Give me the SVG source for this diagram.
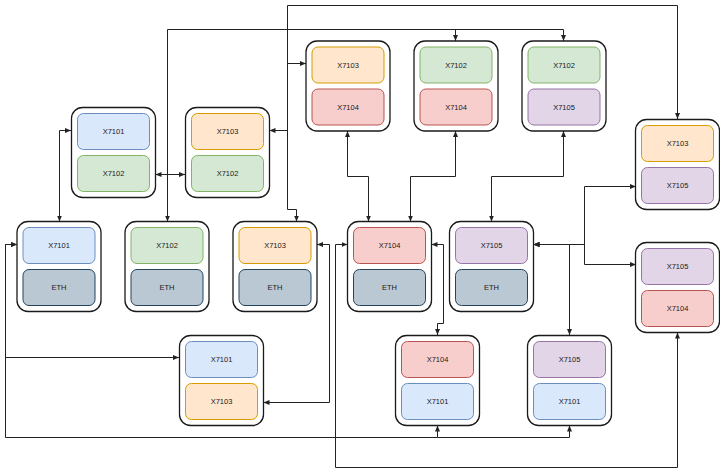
<svg xmlns="http://www.w3.org/2000/svg" width="720" height="474" viewBox="0 0 720 474">
<style>
.o{fill:#fff;stroke:#1a1a1a;stroke-width:1.3}
.b{fill:#dae8fc;stroke:#6c8ebf}
.g{fill:#d5e8d4;stroke:#82b366}
.y{fill:#ffe6cc;stroke:#d79b00}
.r{fill:#f8cecc;stroke:#b85450}
.p{fill:#e1d5e7;stroke:#9673a6}
.e{fill:#bac8d3;stroke:#23445d}
text{font-family:"Liberation Sans",Arial,sans-serif;font-size:7.5px;fill:#1a1a1a;text-anchor:middle;dominant-baseline:central}
.c path{fill:none;stroke:#222;stroke-width:1}
.bi{marker-start:url(#ah);marker-end:url(#ah)}
.en{marker-end:url(#ah)}
</style>
<defs>
<marker id="ah" markerUnits="userSpaceOnUse" markerWidth="6" markerHeight="6" refX="6" refY="3" orient="auto-start-reverse">
<path d="M0,0.5 L6,3 L0,5.5 z" fill="#222"/>
</marker>
<g id="box"><rect class="o" x="0" y="0" width="84" height="90" rx="11"/></g>
</defs>
<g class="c" id="connectors">
<path class="bi" d="M296.5,221.5 V209.5 H287.5 V5.5 H677.5 V119"/>
<path class="en" d="M287.5,63.5 H306"/>
<path class="en" d="M287.5,130.5 H269.5"/>
<path class="bi" d="M167.5,221.5 V29.5 H563.5 V41"/>
<path class="en" d="M455.5,29.5 V41"/>
<path class="bi" d="M155.5,174.5 H185"/>
<path class="bi" d="M71,130.5 H59.5 V221.5"/>
<path class="bi" d="M347.5,131 V176.5 H368.5 V221.5"/>
<path class="bi" d="M455.5,131 V176.5 H410.5 V221.5"/>
<path class="bi" d="M563.5,131 V176.5 H491.5 V221.5"/>
<path class="bi" d="M533.5,244.5 H584.5 V186.5 H636"/>
<path class="bi" d="M533.5,244.5 H584.5 V264.5 H636"/>
<path class="bi" d="M533.5,244.5 H569.5 V335"/>
<path class="bi" d="M431.5,244.5 H443.5 V323.5 H437.5 V335"/>
<path class="bi" d="M317,244.5 H329.5 V402.5 H263.5"/>
<path class="bi" d="M347.5,244.5 H335.5 V467.5 H677.5 V332.5"/>
<path class="bi" d="M17,244.5 H5.5 V357.5 H179"/>
<path class="bi" d="M17,244.5 H5.5 V437.5 H437.5 V425.5"/>
<path class="en" d="M437.5,437.5 H569.5 V425.5"/>
</g>
<g id="t1" transform="translate(306,41)"><use href="#box"/><rect class="y" x="6" y="6" width="72" height="36" rx="6"/><text x="42" y="24">X7103</text><rect class="r" x="6" y="48" width="72" height="36" rx="6"/><text x="42" y="66">X7104</text></g>
<g id="t2" transform="translate(414,41)"><use href="#box"/><rect class="g" x="6" y="6" width="72" height="36" rx="6"/><text x="42" y="24">X7102</text><rect class="r" x="6" y="48" width="72" height="36" rx="6"/><text x="42" y="66">X7104</text></g>
<g id="t3" transform="translate(522,41)"><use href="#box"/><rect class="g" x="6" y="6" width="72" height="36" rx="6"/><text x="42" y="24">X7102</text><rect class="p" x="6" y="48" width="72" height="36" rx="6"/><text x="42" y="66">X7105</text></g>
<g id="r1" transform="translate(635.5,119.5)"><use href="#box"/><rect class="y" x="6" y="6" width="72" height="36" rx="6"/><text x="42" y="24">X7103</text><rect class="p" x="6" y="48" width="72" height="36" rx="6"/><text x="42" y="66">X7105</text></g>
<g id="m1" transform="translate(71.5,107.5)"><use href="#box"/><rect class="b" x="6" y="6" width="72" height="36" rx="6"/><text x="42" y="24">X7101</text><rect class="g" x="6" y="48" width="72" height="36" rx="6"/><text x="42" y="66">X7102</text></g>
<g id="m2" transform="translate(185.5,107.5)"><use href="#box"/><rect class="y" x="6" y="6" width="72" height="36" rx="6"/><text x="42" y="24">X7103</text><rect class="g" x="6" y="48" width="72" height="36" rx="6"/><text x="42" y="66">X7102</text></g>
<g id="n1" transform="translate(17,221.5)"><use href="#box"/><rect class="b" x="6" y="6" width="72" height="36" rx="6"/><text x="42" y="24">X7101</text><rect class="e" x="6" y="48" width="72" height="36" rx="6"/><text x="42" y="66">ETH</text></g>
<g id="n2" transform="translate(125,221.5)"><use href="#box"/><rect class="g" x="6" y="6" width="72" height="36" rx="6"/><text x="42" y="24">X7102</text><rect class="e" x="6" y="48" width="72" height="36" rx="6"/><text x="42" y="66">ETH</text></g>
<g id="n3" transform="translate(233,221.5)"><use href="#box"/><rect class="y" x="6" y="6" width="72" height="36" rx="6"/><text x="42" y="24">X7103</text><rect class="e" x="6" y="48" width="72" height="36" rx="6"/><text x="42" y="66">ETH</text></g>
<g id="n4" transform="translate(347.5,221.5)"><use href="#box"/><rect class="r" x="6" y="6" width="72" height="36" rx="6"/><text x="42" y="24">X7104</text><rect class="e" x="6" y="48" width="72" height="36" rx="6"/><text x="42" y="66">ETH</text></g>
<g id="n5" transform="translate(449.5,221.5)"><use href="#box"/><rect class="p" x="6" y="6" width="72" height="36" rx="6"/><text x="42" y="24">X7105</text><rect class="e" x="6" y="48" width="72" height="36" rx="6"/><text x="42" y="66">ETH</text></g>
<g id="r2" transform="translate(635.5,242.5)"><use href="#box"/><rect class="p" x="6" y="6" width="72" height="36" rx="6"/><text x="42" y="24">X7105</text><rect class="r" x="6" y="48" width="72" height="36" rx="6"/><text x="42" y="66">X7104</text></g>
<g id="b1" transform="translate(179.5,335.5)"><use href="#box"/><rect class="b" x="6" y="6" width="72" height="36" rx="6"/><text x="42" y="24">X7101</text><rect class="y" x="6" y="48" width="72" height="36" rx="6"/><text x="42" y="66">X7103</text></g>
<g id="b2" transform="translate(395.5,335.5)"><use href="#box"/><rect class="r" x="6" y="6" width="72" height="36" rx="6"/><text x="42" y="24">X7104</text><rect class="b" x="6" y="48" width="72" height="36" rx="6"/><text x="42" y="66">X7101</text></g>
<g id="b3" transform="translate(527.5,335.5)"><use href="#box"/><rect class="p" x="6" y="6" width="72" height="36" rx="6"/><text x="42" y="24">X7105</text><rect class="b" x="6" y="48" width="72" height="36" rx="6"/><text x="42" y="66">X7101</text></g>
</svg>
